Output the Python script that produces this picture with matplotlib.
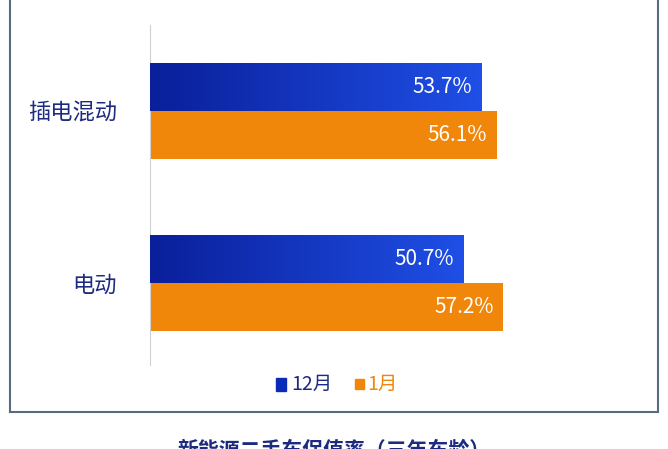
import numpy as np
import matplotlib.pyplot as plt
from matplotlib.patches import Rectangle
from matplotlib.colors import LinearSegmentedColormap

plt.rcParams['font.family'] = ['Noto Sans CJK SC', 'DejaVu Sans']

categories = ["插电混动", "电动"]
dec_values = [53.7, 50.7]
jan_values = [56.1, 57.2]
series_names = ["12月", "1月"]

blue = "#0a2bb8"
orange = "#f0870a"
navy = "#1c2a80"

fig = plt.figure(figsize=(6.68, 4.49), dpi=100)
W, H = 668, 449
ax = fig.add_axes([150 / W, 1 - 365 / H, 490 / W, 340 / H])

y = np.arange(len(categories))
h = 0.279
b1 = ax.barh(y - h / 2, dec_values, height=h, color=blue)
b2 = ax.barh(y + h / 2, jan_values, height=h, color=orange)

# gradient on blue bars
cmap = LinearSegmentedColormap.from_list("g", ["#0a1f9a", "#1f4fe6"])
grad = np.linspace(0, 1, 256).reshape(1, -1)
for bar in b1:
    x0, y0 = bar.get_x(), bar.get_y()
    bw, bh = bar.get_width(), bar.get_height()
    ax.imshow(grad, cmap=cmap, aspect="auto", extent=[x0, x0 + bw, y0 + bh, y0], zorder=3)

for bars in (b1, b2):
    for bar in bars:
        ax.text(bar.get_width() - 1.5, bar.get_y() + bar.get_height() / 2,
                f"{bar.get_width():.1f}%", ha="right", va="center",
                color="white", fontsize=15, zorder=4)

ax.set_xlim(0, 79.3)
ax.set_ylim(1.477, -0.5)
ax.set_yticks(y)
ax.set_yticklabels(categories, fontsize=16, color=navy)
ax.set_xticks([])
ax.tick_params(axis="y", length=0, pad=24)
for s in ["top", "right", "bottom"]:
    ax.spines[s].set_visible(False)
ax.spines["left"].set_color("#d0d0d0")

# legend
fig.patches.append(Rectangle((276 / W, 1 - 391 / H), 10 / W, 13 / H, color=blue, transform=fig.transFigure))
fig.text(291 / W, 1 - 384 / H, series_names[0], fontsize=14, color=navy, va="center")
fig.patches.append(Rectangle((355 / W, 1 - 389 / H), 9 / W, 10 / H, color=orange, transform=fig.transFigure))
fig.text(367 / W, 1 - 384 / H, series_names[1], fontsize=14, color=orange, va="center")

# frame
fig.add_artist(plt.Line2D([10 / W, 10 / W], [1, 1 - 412 / H], color="#5a6a80", lw=1.5))
fig.add_artist(plt.Line2D([10 / W, 658 / W], [1 - 412 / H, 1 - 412 / H], color="#5a6a80", lw=1.5))
fig.add_artist(plt.Line2D([658 / W, 658 / W], [1, 1 - 412 / H], color="#5a6a80", lw=1.5))

fig.text(0.5, 1 - 450 / H, "新能源二手车保值率（三年车龄）", ha="center", va="center",
         fontsize=15, fontweight="bold", color=navy)

fig.savefig("out.png", dpi=100)
